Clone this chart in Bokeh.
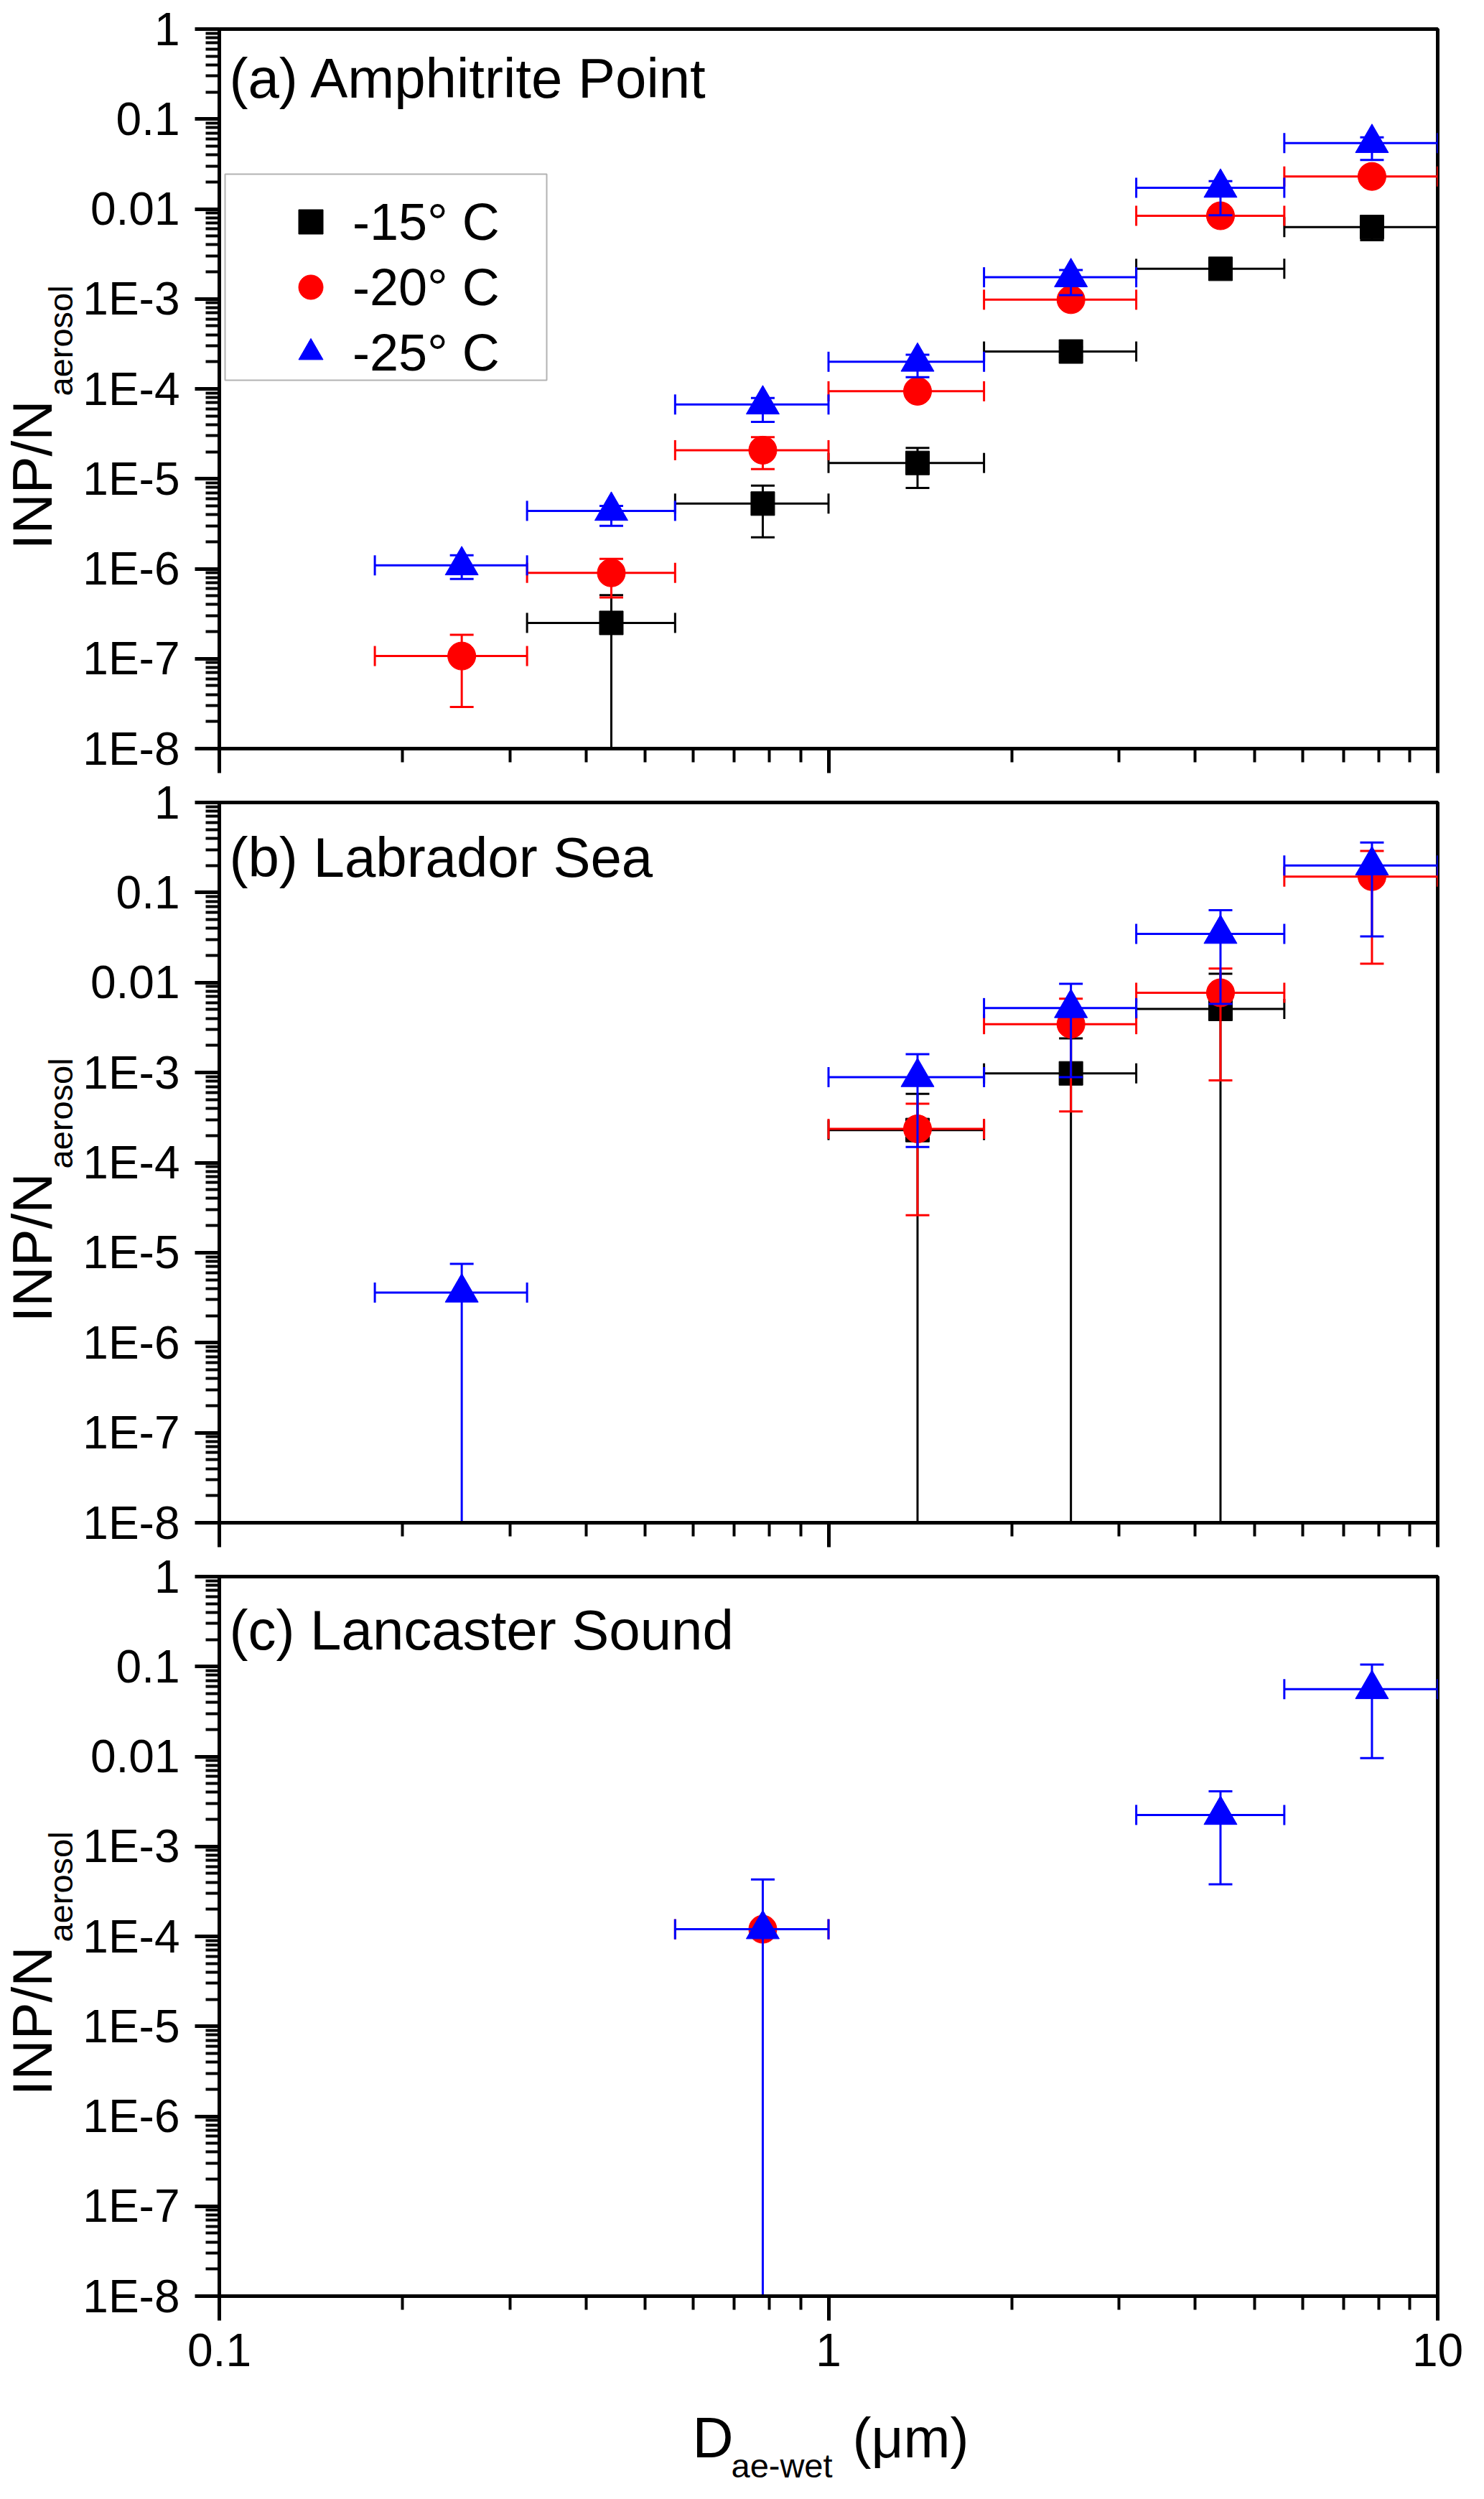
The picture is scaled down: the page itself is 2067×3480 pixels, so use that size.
import math
from bokeh.plotting import figure
from bokeh.layouts import column, row
from bokeh.models import (Range1d, FixedTicker, CustomJSTickFormatter, Label,
                          Legend, LegendItem, BoxAnnotation)
from bokeh.core.properties import value
from bokeh.embed import file_html
from bokeh.resources import INLINE

# ---- data; 0 in a *_ylo list = bar runs to the axis bottom ----
# (a) Amphitrite Point
a15_x = [0.44, 0.78, 1.4, 2.5, 4.4, 7.8]
a15_xlo = [0.32, 0.56, 1.0, 1.8, 3.2, 5.6]
a15_xhi = [0.56, 1.0, 1.8, 3.2, 5.6, 10]
a15_y = [2.5e-7, 5.3e-6, 1.5e-5, 2.6e-4, 2.16e-3, 6.3e-3]
a15_ylo = [0, 2.24e-6, 7.9e-6, 2.3e-4, 2.0e-3, 4.5e-3]
a15_yhi = [5.1e-7, 8.4e-6, 2.2e-5, 2.9e-4, 2.3e-3, 6.8e-3]

a20_x = [0.25, 0.44, 0.78, 1.4, 2.5, 4.4, 7.8]
a20_xlo = [0.18, 0.32, 0.56, 1.0, 1.8, 3.2, 5.6]
a20_xhi = [0.32, 0.56, 1.0, 1.8, 3.2, 5.6, 10]
a20_y = [1.07e-7, 9.0e-7, 2.08e-5, 9.4e-5, 9.8e-4, 8.4e-3, 0.023]
a20_ylo = [2.9e-8, 4.8e-7, 1.28e-5, 8.0e-5, 8.6e-4, 7.3e-3, 0.020]
a20_yhi = [1.84e-7, 1.29e-6, 2.9e-5, 1.1e-4, 1.1e-3, 9.5e-3, 0.026]

a25_x = [0.25, 0.44, 0.78, 1.4, 2.5, 4.4, 7.8]
a25_xlo = [0.18, 0.32, 0.56, 1.0, 1.8, 3.2, 5.6]
a25_xhi = [0.32, 0.56, 1.0, 1.8, 3.2, 5.6, 10]
a25_y = [1.09e-6, 4.4e-6, 6.7e-5, 2.0e-4, 1.74e-3, 0.0172, 0.054]
a25_ylo = [7.7e-7, 3.0e-6, 4.3e-5, 1.35e-4, 1.1e-3, 8.5e-3, 0.035]
a25_yhi = [1.41e-6, 5.0e-6, 7.9e-5, 2.4e-4, 2.1e-3, 0.0204, 0.0625]

# (b) Labrador Sea
b15_x = [1.4, 2.5, 4.4]
b15_xlo = [1.0, 1.8, 3.2]
b15_xhi = [1.8, 3.2, 5.6]
b15_y = [2.3e-4, 9.8e-4, 5.1e-3]
b15_ylo = [0, 0, 0]
b15_yhi = [5.8e-4, 2.4e-3, 0.0125]

b20_x = [1.4, 2.5, 4.4, 7.8]
b20_xlo = [1.0, 1.8, 3.2, 5.6]
b20_xhi = [1.8, 3.2, 5.6, 10]
b20_y = [2.37e-4, 3.45e-3, 7.7e-3, 0.15]
b20_ylo = [2.6e-5, 3.7e-4, 8.2e-4, 0.0162]
b20_yhi = [4.5e-4, 6.6e-3, 0.0143, 0.29]

b25_x = [0.25, 1.4, 2.5, 4.4, 7.8]
b25_xlo = [0.18, 1.0, 1.8, 3.2, 5.6]
b25_xhi = [0.32, 1.8, 3.2, 5.6, 10]
b25_y = [3.6e-6, 8.9e-4, 5.2e-3, 0.0347, 0.20]
b25_ylo = [0, 1.49e-4, 8.9e-4, 5.8e-3, 0.0325]
b25_yhi = [7.5e-6, 1.6e-3, 9.7e-3, 0.0635, 0.36]

# (c) Lancaster Sound
c20_x = [0.78]
c20_xlo = [0.56]
c20_xhi = [1.0]
c20_y = [1.2e-4]
c20_ylo = [1.2e-4]
c20_yhi = [1.2e-4]

c25_x = [0.78, 4.4, 7.8]
c25_xlo = [0.56, 3.2, 5.6]
c25_xhi = [1.0, 5.6, 10]
c25_y = [1.2e-4, 2.24e-3, 0.056]
c25_ylo = [0, 3.8e-4, 9.6e-3]
c25_yhi = [4.3e-4, 4.1e-3, 0.105]

labels = ["-15\u00b0 C", "-20\u00b0 C", "-25\u00b0 C"]
colors = ["black", "#FF0000", "#0000FF"]
markers = ["square", "circle", "triangle"]
msizes = [33, 39, 46]

FONT = "Liberation Sans"
FRAME_W = 1697
LAB_W = 110          # strip left of each panel holding the y title
LEFT = 195           # panel border left of the frame


def draw_series(p, x, xlo, xhi, y, ylo, yhi, k):
    c = colors[k]
    floor = 1e-10
    y0 = [v if v > 0 else floor for v in ylo]
    p.segment(x0=xlo, y0=y, x1=xhi, y1=y, line_color=c, line_width=3)
    p.segment(x0=x, y0=y0, x1=x, y1=yhi, line_color=c, line_width=3)
    # end caps on the horizontal bars
    p.scatter(x=xlo + xhi, y=y + y, marker="dash", angle=math.pi / 2, size=28,
              line_color=c, line_width=3)
    # end caps on the vertical bars
    cx, cy = [], []
    for xi, yi, lo, hi in zip(x, y, ylo, yhi):
        if hi != yi:
            cx.append(xi); cy.append(hi)
        if lo > 0 and lo != yi:
            cx.append(xi); cy.append(lo)
    if cx:
        p.scatter(x=cx, y=cy, marker="dash", size=33, line_color=c, line_width=3)
    r = p.scatter(x=x, y=y, marker=markers[k], size=msizes[k], fill_color=c,
                  line_color=c, line_width=1)
    return r


def blank(w, h):
    f = figure(frame_width=w, frame_height=h, x_range=Range1d(0, w), y_range=Range1d(0, h),
               min_border=0, x_axis_location=None, y_axis_location=None,
               toolbar_location=None, output_backend="svg",
               background_fill_color="white", border_fill_color="white")
    f.outline_line_color = None
    f.grid.visible = False
    return f


def y_title(h, frame_bottom):
    # INP/N with subscript "aerosol", rotated
    f = blank(LAB_W, h)
    f.text(x=[44], y=[frame_bottom + 317], text=["INP/N"], angle=math.pi / 2,
           text_font=value(FONT), text_font_size="78px", text_color="black",
           text_align="left", text_baseline="middle")
    f.text(x=[84], y=[frame_bottom + 531], text=["aerosol"], angle=math.pi / 2,
           text_font=value(FONT), text_font_size="47px", text_color="black",
           text_align="left", text_baseline="middle")
    return f


def make_panel(title, title_y, top, frame_h, bottom, show_x):
    p = figure(frame_width=FRAME_W, frame_height=frame_h,
               x_axis_type="log", y_axis_type="log",
               x_range=Range1d(0.1, 10), y_range=Range1d(1e-8, 1),
               min_border_left=LEFT, min_border_right=40,
               min_border_top=top, min_border_bottom=bottom,
               toolbar_location=None, output_backend="svg",
               background_fill_color="white", border_fill_color="white")
    p.grid.visible = False
    p.outline_line_color = "black"
    p.outline_line_width = 5
    p.outline_line_alpha = 1

    p.yaxis.ticker = FixedTicker(ticks=[10.0 ** e for e in range(-8, 1)],
                                 minor_ticks=[m * 10.0 ** e for e in range(-8, 0) for m in range(2, 10)])
    p.yaxis.formatter = CustomJSTickFormatter(code="""
        const e = Math.round(Math.log10(tick));
        if (e == 0) return '1';
        if (e == -1) return '0.1';
        if (e == -2) return '0.01';
        return '1E' + e;
    """)
    p.xaxis.ticker = FixedTicker(ticks=[0.1, 1, 10],
                                 minor_ticks=[m * 10.0 ** e for e in (-1, 0) for m in range(2, 10)])
    for ax in (p.xaxis[0], p.yaxis[0]):
        ax.axis_line_width = 5
        ax.major_tick_line_width = 5
        ax.minor_tick_line_width = 4
        ax.major_tick_out = 34
        ax.major_tick_in = 0
        ax.minor_tick_out = 19
        ax.minor_tick_in = 0
        ax.major_label_text_font = FONT
        ax.major_label_text_font_size = "64px"
        ax.major_label_text_color = "black"
    p.yaxis.major_label_standoff = 21
    if show_x:
        p.xaxis.formatter = CustomJSTickFormatter(code="return tick >= 1 ? tick.toFixed(0) : tick.toFixed(1);")
        p.xaxis.major_label_standoff = 18
    else:
        p.xaxis.formatter = CustomJSTickFormatter(code="return '';")
        p.xaxis.major_label_text_font_size = "0px"
        p.xaxis.major_label_standoff = 0

    p.add_layout(Label(x=14, y=frame_h - title_y, x_units="screen", y_units="screen",
                       text=title, text_font=FONT, text_font_size="78px",
                       text_color="black", text_align="left",
                       text_baseline="middle"))
    return p


pa = make_panel("(a) Amphitrite Point", 68, 40, 1002, 37, False)
ra = [draw_series(pa, a15_x, a15_xlo, a15_xhi, a15_y, a15_ylo, a15_yhi, 0),
      draw_series(pa, a20_x, a20_xlo, a20_xhi, a20_y, a20_ylo, a20_yhi, 1),
      draw_series(pa, a25_x, a25_xlo, a25_xhi, a25_y, a25_ylo, a25_yhi, 2)]

# legend frame drawn as a box, legend itself transparent
pa.add_layout(BoxAnnotation(left=8, right=456, bottom=513, top=800,
                            left_units="screen", right_units="screen",
                            bottom_units="screen", top_units="screen",
                            fill_color="white", fill_alpha=1,
                            line_color="black", line_width=2))
leg = Legend(items=[LegendItem(label=labels[i], renderers=[ra[i]]) for i in range(3)],
             location=(85, 509), glyph_width=85, glyph_height=85, label_height=85,
             label_standoff=16, padding=10, spacing=6,
             label_text_font=FONT, label_text_font_size="72px",
             label_text_color="black", border_line_color=None,
             background_fill_alpha=0)
pa.add_layout(leg)

pb = make_panel("(b) Labrador Sea", 76, 38, 1003, 37, False)
draw_series(pb, b15_x, b15_xlo, b15_xhi, b15_y, b15_ylo, b15_yhi, 0)
draw_series(pb, b20_x, b20_xlo, b20_xhi, b20_y, b20_ylo, b20_yhi, 1)
draw_series(pb, b25_x, b25_xlo, b25_xhi, b25_y, b25_ylo, b25_yhi, 2)

pc = make_panel("(c) Lancaster Sound", 74, 38, 1002, 135, True)
draw_series(pc, c20_x, c20_xlo, c20_xhi, c20_y, c20_ylo, c20_yhi, 1)
draw_series(pc, c25_x, c25_xlo, c25_xhi, c25_y, c25_ylo, c25_yhi, 2)

la = y_title(40 + 1002 + 37, 37)
lb = y_title(38 + 1003 + 37, 37)
lc = y_title(38 + 1002 + 135, 135)

# x axis title D_ae-wet (um) in a strip under the last panel
XW = LAB_W + LEFT + FRAME_W + 40
xs = blank(XW, 131)
xs.text(x=[964], y=[69], text=["D"], text_font=value(FONT), text_font_size="79px",
        text_color="black", text_align="left", text_baseline="middle")
xs.text(x=[1018], y=[30], text=["ae-wet"], text_font=value(FONT), text_font_size="47px",
        text_color="black", text_align="left", text_baseline="middle")
xs.text(x=[1187], y=[69], text=["(\u03bcm)"], text_font=value(FONT), text_font_size="78px",
        text_color="black", text_align="left", text_baseline="middle")

layout = column(row(la, pa, spacing=0), row(lb, pb, spacing=0), row(lc, pc, spacing=0),
                xs, spacing=0)
open("out.html", "w").write(file_html(layout, INLINE))
